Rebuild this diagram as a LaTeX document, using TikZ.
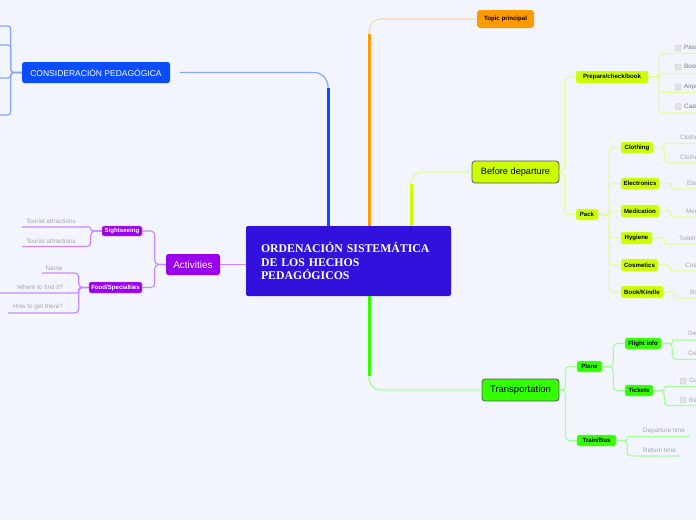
\documentclass[tikz,border=0pt]{standalone}
\usepackage{fontspec}
\setmainfont{Liberation Sans}
\newfontfamily\centralfont{Liberation Serif}
\definecolor{bgc}{HTML}{F2F5FD}
\definecolor{bluec}{HTML}{0A4CFF}
\definecolor{bluel}{HTML}{88A8FF}
\definecolor{orc}{HTML}{FF9900}
\definecolor{orl}{HTML}{FFD9A8}
\definecolor{ygc}{HTML}{CCFF00}
\definecolor{ygl}{HTML}{E2FF99}
\definecolor{grc}{HTML}{33FF00}
\definecolor{grl}{HTML}{A8FF9A}
\definecolor{puc}{HTML}{9900EE}
\definecolor{pul}{HTML}{CC88FF}
\definecolor{centralc}{HTML}{3311DD}
\definecolor{leafgrey}{HTML}{A6A6A6}
\definecolor{darkleaf}{HTML}{777777}
\definecolor{chkfill}{HTML}{E2E2E2}
\definecolor{chkdraw}{HTML}{CCCCCC}
\begin{document}
\begin{tikzpicture}[x=1pt,y=-1pt,
  cnode/.style={fill=centralc, rounded corners=2, minimum width=205, minimum height=70,
    text width=175, align=left, inner xsep=15, inner ysep=0, text=white,
    font=\centralfont\bfseries\fontsize{11.8}{13.5}\selectfont},
  bignode/.style={rounded corners=3, draw=black!65, line width=0.8, minimum height=22, inner sep=0},
  topnode/.style={rounded corners=2.5, minimum height=21, inner sep=0, text=white},
  lvtwo/.style={rounded corners=1.5, inner sep=0, minimum height=11, text=black,
    font=\bfseries\fontsize{6.1}{7.2}\selectfont},
  ygnode/.style={lvtwo, fill=ygc, draw=ygc!60!white, line width=0.4},
  grnode/.style={lvtwo, fill=grc, draw=grc!60!white, line width=0.4},
  punode/.style={lvtwo, fill=puc, draw=puc!50!white, line width=0.4, text=white},
  leaf/.style={inner sep=0, text=leafgrey, font=\fontsize{6.3}{7.5}\selectfont},
  dleaf/.style={leaf, text=darkleaf},
  chk/.style={draw=chkdraw, fill=chkfill, rounded corners=1, minimum size=6, inner sep=0, line width=0.4},
  ygline/.style={draw=ygl, line width=1.2, rounded corners=2},
  grline/.style={draw=grl, line width=1.2, rounded corners=2},
  puline/.style={draw=pul, line width=1.2, rounded corners=2},
  blline/.style={draw=bluel, line width=1.2, rounded corners=3},
  bigr/.style={rounded corners=4},
]
\useasboundingbox (0,0) rectangle (696,520);
\clip (0,0) rectangle (696,520);
\fill[bgc] (0,0) rectangle (696,520);

% ---------- main nodes ----------
\node[cnode] (central) at (348.5,261) {ORDENACIÓN SISTEMÁTICA\\DE LOS HECHOS\\PEDAGÓGICOS};
\node[topnode, fill=bluec, minimum width=148, font=\fontsize{8.5}{10}\selectfont] (cons) at (96,72.5) {CONSIDERACIÓN PEDAGÓGICA};
\node[topnode, fill=puc, minimum width=54, font=\fontsize{10}{12}\selectfont] (act) at (193,264.5) {Activities};
\node[lvtwo, fill=orc, rounded corners=3, minimum width=57, minimum height=18] (topic) at (505.5,19) {Topic principal};
\node[bignode, fill=ygc, minimum width=87, font=\fontsize{9.2}{11}\selectfont] (bd) at (515.5,172) {Before departure};
\node[bignode, fill=grc, minimum width=77, font=\fontsize{9.5}{11}\selectfont] (trans) at (520.5,390) {Transportation};

% ---------- main connectors ----------
\draw[draw=bluel, line width=1.2, rounded corners=14] ([xshift=10]cons.east) -| ([xshift=-20.5]central.north);
\draw[bluec, line width=3] ([xshift=-20.5]central.north) -- ++(0,-138);
\draw[draw=orl, line width=1.2, rounded corners=12] ([xshift=20.5]central.north) |- (topic.west);
\draw[orc, line width=3] ([xshift=20.5]central.north) -- ++(0,-192);
\draw[draw=ygl, line width=1.4, rounded corners=12] ([xshift=62.5]central.north) |- (bd.west);
\draw[ygc, line width=3] ([xshift=62.5]central.north) -- ++(0,-42);
\draw[draw=grl, line width=1.4, rounded corners=12] ([xshift=20.5]central.south) |- (trans.west);
\draw[grc, line width=3] ([xshift=20.5]central.south) -- ++(0,80);
\draw[puline] (act.east) -- (act.east -| central.west);

% ---------- left blue bracket ----------
\coordinate (kb1) at (-20,26);
\coordinate (kb2) at (-20,45);
\coordinate (kb3) at (-20,78);
\coordinate (kb4) at (-20,115);
\foreach \k in {kb1,kb2,kb3,kb4}{
  \draw[blline] (cons.west) -- ++(-11,0) |- (\k);
}

% ---------- Activities ----------
\node[punode, minimum width=40, minimum height=10] (sight) at (122,231) {Sightseeing};
\node[punode, minimum width=53] (food) at (115.5,287.5) {Food/Specialties};
\draw[puline, bigr] (act.west) -- ++(-11,0) |- (sight.east);
\draw[puline, bigr] (act.west) -- ++(-11,0) |- (food.east);

\node[leaf] (ta1) at (51,221) {Tourist attractions};
\node[leaf] (ta2) at (51,241) {Tourist attractions};
\coordinate (ta1u) at (22,227);
\coordinate (ta2u) at (22,246.5);
\draw[puline] (sight.west) -- ++(-11,0) |- (ta1u);
\draw[puline, bigr] (sight.west) -- ++(-11,0) |- (ta2u);

\node[leaf] (nm) at (54,268) {Name};
\node[leaf] (wh) at (40,287) {Where to find it?};
\node[leaf] (hw) at (38,307) {How to get there?};
\coordinate (nmu) at (42,273);
\coordinate (whu) at (-5,293);
\coordinate (hwu) at (8,313);
\draw[puline, bigr] (food.west) -- ++(-10,0) |- (nmu);
\draw[puline] (food.west) -- ++(-10,0) |- (whu);
\draw[puline, bigr] (food.west) -- ++(-10,0) |- (hwu);

% ---------- Before departure ----------
\node[ygnode, minimum width=72, minimum height=12] (prep) at (612,77) {Prepare/check/book};
\node[ygnode, minimum width=22] (pack) at (587,214.5) {Pack};
\draw[ygline, bigr] (bd.east) -- ++(5,0) |- (prep.west);
\draw[ygline, bigr] (bd.east) -- ++(5,0) |- (pack.west);

% Prepare children
\foreach \n/\y/\u/\t in {p1/48/53.5/Passport, p2/67/73.5/Booking, p3/87/92.5/Airport, p4/106.5/113/Cash}{
  \node[chk] (\n c) at (678,\y) {};
  \node[dleaf, anchor=west] (\n) at (684,\y) {\t};
  \coordinate (\n u) at (720,\u);
  \draw[ygline, bigr] (prep.east) -- ++(11,0) |- (\n u);
}

% Pack children
\node[ygnode, minimum width=32] (cloth) at (637,147.5) {Clothing};
\node[ygnode, minimum width=38] (elec) at (640,183.5) {Electronics};
\node[ygnode, minimum width=38, minimum height=12] (med) at (640,211) {Medication};
\node[ygnode, minimum width=31, minimum height=12] (hyg) at (636.5,238) {Hygiene};
\node[ygnode, minimum width=37, minimum height=12] (cosm) at (639.5,265) {Cosmetics};
\node[ygnode, minimum width=42, minimum height=12] (book) at (642,292) {Book/Kindle};
\foreach \n in {cloth,elec,med,hyg,cosm,book}{
  \draw[ygline, bigr] (pack.east) -- ++(11,0) |- (\n.west);
}

% Clothing leaves
\node[leaf, anchor=west] (cl1) at (680,137) {Clothes};
\node[leaf, anchor=west] (cl2) at (680,157) {Clothes};
\coordinate (cl1u) at (720,143.5);
\coordinate (cl2u) at (720,163);
\draw[ygline] (cloth.east) -- ++(11,0) |- (cl1u);
\draw[ygline, bigr] (cloth.east) -- ++(11,0) |- (cl2u);

% single leaves
\foreach \p/\n/\x/\y/\t in {elec/el1/687/183/Electronics, med/me1/686/211/Medication, hyg/hy1/679/238/Toiletries, cosm/co1/685/265/Cosmetics, book/bo1/690/292/Books}{
  \node[leaf, anchor=west] (\n) at (\x,\y) {\t};
  \coordinate (\n u) at (720,\y+6);
  \draw[ygline] (\p.east) -- ++(12,0) |- (\n u);
}

% ---------- Transportation ----------
\node[grnode, minimum width=25] (plane) at (589.5,366.5) {Plane};
\node[grnode, minimum width=39] (train) at (596.5,440.5) {Train/Bus};
\draw[grline, bigr] (trans.east) -- ++(6,0) |- (plane.west);
\draw[grline, bigr] (trans.east) -- ++(6,0) |- (train.west);

\node[grnode, minimum width=36] (flight) at (643,343.5) {Flight info};
\node[grnode, minimum width=28] (tickets) at (639,390.5) {Tickets};
\draw[grline, bigr] (plane.east) -- ++(11,0) |- (flight.west);
\draw[grline, bigr] (plane.east) -- ++(11,0) |- (tickets.west);

\node[leaf, anchor=west] (fl1) at (688,334) {Departure};
\node[leaf, anchor=west] (fl2) at (688,354) {Getting back};
\coordinate (fl1u) at (720,340);
\coordinate (fl2u) at (720,359.5);
\draw[grline] (flight.east) -- ++(11,0) |- (fl1u);
\draw[grline, bigr] (flight.east) -- ++(11,0) |- (fl2u);

\node[chk] (tk1c) at (683,381) {};
\node[chk] (tk2c) at (683,400) {};
\node[leaf, anchor=west] (tk1) at (689,381) {Going};
\node[leaf, anchor=west] (tk2) at (689,400) {Return};
\coordinate (tk1u) at (720,386.5);
\coordinate (tk2u) at (720,405.5);
\draw[grline] (tickets.east) -- ++(11,0) |- (tk1u);
\draw[grline, bigr] (tickets.east) -- ++(11,0) |- (tk2u);

\node[leaf, anchor=west] (tb1) at (643,431) {Departure time};
\node[leaf, anchor=west] (tb2) at (643,450) {Return time};
\coordinate (tb1u) at (690,436.5);
\coordinate (tb2u) at (680,456);
\draw[grline] (train.east) -- ++(11,0) |- (tb1u);
\draw[grline, bigr] (train.east) -- ++(11,0) |- (tb2u);
\end{tikzpicture}
\end{document}
